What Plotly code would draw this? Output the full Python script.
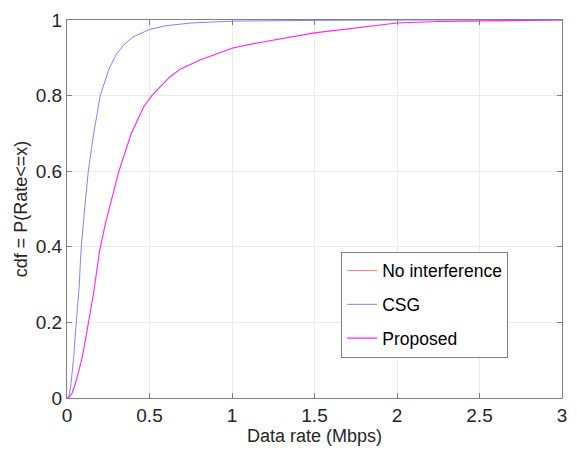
import plotly.graph_objects as go

# ---- data ----
csg_rate = [0, 0.01, 0.024, 0.04, 0.056, 0.066, 0.074, 0.0805, 0.0866, 0.107, 0.129, 0.161,
            0.2016, 0.254, 0.3, 0.35, 0.4, 0.5, 0.6, 0.75, 1.0, 1.5, 2.0, 3.0]
csg_cdf = [0, 0, 0.037, 0.105, 0.2, 0.25, 0.295, 0.354, 0.4, 0.5, 0.6, 0.698,
           0.8, 0.87, 0.91, 0.937, 0.955, 0.975, 0.985, 0.992, 0.997, 0.999, 1.0, 1.0]

prop_rate = [0, 0.01, 0.03, 0.05, 0.07, 0.091, 0.11, 0.131, 0.161, 0.183, 0.198, 0.232, 0.256,
             0.298, 0.313, 0.389, 0.464, 0.514, 0.555, 0.62, 0.686, 0.806, 1.005, 1.16, 1.5,
             1.75, 2.0, 2.25, 2.5, 3.0]
prop_cdf = [0, 0, 0.012, 0.037, 0.07, 0.105, 0.15, 0.2, 0.277, 0.345, 0.39, 0.46, 0.5,
            0.575, 0.598, 0.699, 0.77, 0.8, 0.818, 0.848, 0.87, 0.894, 0.926, 0.94, 0.966,
            0.98, 0.992, 0.996, 0.998, 1.0]

# No-interference rates lie beyond the plotted range (not visible in the reference)
noint_rate = [3.2, 3.6, 4.0, 4.5, 5.0]
noint_cdf = [0, 0.25, 0.5, 0.75, 1.0]

x_ticks = [0, 0.5, 1, 1.5, 2, 2.5, 3]
x_ticklabels = ["0", "0.5", "1", "1.5", "2", "2.5", "3"]
y_ticks = [0, 0.2, 0.4, 0.6, 0.8, 1]
y_ticklabels = ["0", "0.2", "0.4", "0.6", "0.8", "1"]

FONT = "Liberation Sans, Arial, Helvetica, sans-serif"

fig = go.Figure()
fig.add_trace(go.Scatter(x=noint_rate, y=noint_cdf, mode="lines", name="No interference",
                         line=dict(color="#ff6060", width=0.8), legendgroup="a"))
fig.add_trace(go.Scatter(x=csg_rate, y=csg_cdf, mode="lines", name="CSG",
                         line=dict(color="#6262ff", width=0.8), legendgroup="b"))
fig.add_trace(go.Scatter(x=prop_rate, y=prop_cdf, mode="lines", name="Proposed",
                         line=dict(color="#ff22ff", width=1.1), legendgroup="c"))

axis_common = dict(
    showline=True, linecolor="#808080", linewidth=1, mirror="ticks",
    ticks="inside", ticklen=5, tickcolor="#808080",
    showgrid=True, gridcolor="#ebebeb", gridwidth=1,
    zeroline=False,
    tickfont=dict(family=FONT, size=19, color="#262626"),
)

fig.update_layout(
    width=577, height=453,
    margin=dict(l=67, r=12, t=10, b=55),
    paper_bgcolor="white", plot_bgcolor="white",
    font=dict(family=FONT, color="#262626"),
    xaxis=dict(range=[0, 3], tickvals=x_ticks, ticktext=x_ticklabels,
               title=dict(text="Data rate (Mbps)", font=dict(family=FONT, size=18, color="#262626"),
                          standoff=2),
               **axis_common),
    yaxis=dict(range=[0, 1], tickvals=y_ticks, ticktext=y_ticklabels,
               title=dict(text="cdf = P(Rate<=x)", font=dict(family=FONT, size=18, color="#262626"),
                          standoff=3),
               **axis_common),
    legend=dict(x=0.554, y=0.387, xanchor="left", yanchor="top",
                bordercolor="#808080", borderwidth=1, bgcolor="white",
                font=dict(family=FONT, size=17.5, color="#000000"), tracegroupgap=8,
                itemwidth=30),
    showlegend=True,
)

fig.write_html("out.html")
